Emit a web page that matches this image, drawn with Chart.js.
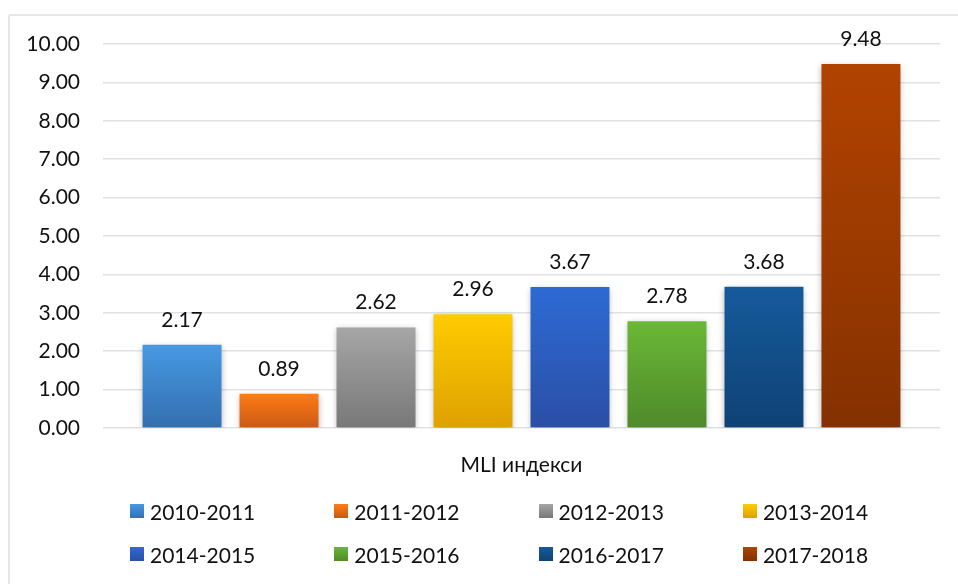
<!DOCTYPE html>
<html>
<head>
<meta charset="utf-8">
<title>MLI индекси</title>
<script src="https://cdn.jsdelivr.net/npm/chart.js@4.4.1/dist/chart.umd.min.js"></script>
<style>
  html, body { margin: 0; padding: 0; background: #fff; }
  #wrap { position: relative; width: 958px; height: 584px; overflow: hidden; }
  #frame { position: absolute; left: 8px; top: 14px; width: 990px; height: 620px;
           border: 2px solid #e4e7eb; border-radius: 3px; box-sizing: border-box; }
  #chart { position: absolute; left: 0; top: 0; }
  #legend { position: absolute; left: 0; top: 0; width: 958px; height: 584px;
            font: 21px Lato, "Open Sans", sans-serif; color: #111; }
  .item { position: absolute; display: flex; align-items: center; height: 24px; white-space: nowrap; }
  .box { width: 14px; height: 14px; margin-right: 6px; }
</style>
</head>
<body>
<div id="wrap">
  <div id="frame"></div>
  <canvas id="chart" width="958" height="584"></canvas>
  <div id="legend"></div>
</div>
<script>
// data
const categories = ['MLI индекси'];
const periods = ['2010-2011', '2011-2012', '2012-2013', '2013-2014',
                 '2014-2015', '2015-2016', '2016-2017', '2017-2018'];
const mliValues = [2.17, 0.89, 2.62, 2.96, 3.67, 2.78, 3.68, 9.48];
const yMin = 0, yMax = 10, yStep = 1;

// bar colours (top -> bottom of each bar)
const topColors = ['#4799e3', '#ff7b16', '#a6a6a6', '#ffcb00', '#2e6ad4', '#6ab836', '#165a9c', '#b24300'];
const bottomColors = ['#336fb0', '#c95a14', '#787878', '#dea100', '#2a4fa6', '#4f8a2a', '#0e4275', '#843100'];

const FONT = 'Lato, "Open Sans", sans-serif';
const TEXT = '#111';

function barGradient(i) {
  return function(ctx) {
    const chart = ctx.chart;
    const y = chart.scales && chart.scales.y;
    if (!chart.chartArea || !y) return topColors[i];
    const top = y.getPixelForValue(mliValues[i]);
    const bottom = y.getPixelForValue(0);
    const g = chart.ctx.createLinearGradient(0, top, 0, bottom);
    g.addColorStop(0, topColors[i]);
    g.addColorStop(1, bottomColors[i]);
    return g;
  };
}

const barShadow = {
  id: 'barShadow',
  beforeDatasetsDraw(chart) {
    const c = chart.ctx;
    c.save();
    c.shadowColor = 'rgba(0,0,0,0.28)';
    c.shadowBlur = 6;
    c.shadowOffsetX = 0;
    c.shadowOffsetY = 2;
  },
  afterDatasetsDraw(chart) {
    chart.ctx.restore();
  }
};

const valueLabels = {
  id: 'valueLabels',
  afterDatasetsDraw(chart) {
    const c = chart.ctx;
    c.save();
    c.font = '21px ' + FONT;
    c.fillStyle = TEXT;
    c.textAlign = 'center';
    c.textBaseline = 'alphabetic';
    chart.data.datasets.forEach((ds, i) => {
      const bar = chart.getDatasetMeta(i).data[0];
      c.fillText(ds.data[0].toFixed(2), bar.x, bar.y - 18);
    });
    c.restore();
  }
};

new Chart(document.getElementById('chart'), {
  type: 'bar',
  data: {
    labels: categories,
    datasets: periods.map((p, i) => ({
      label: p,
      data: [mliValues[i]],
      backgroundColor: barGradient(i),
      borderWidth: 0,
      categoryPercentage: 0.927,
      barPercentage: 0.814
    }))
  },
  options: {
    responsive: false,
    animation: false,
    layout: { padding: { top: 44, right: 18, left: 0, bottom: 0 } },
    plugins: {
      legend: { display: false },
      tooltip: { enabled: false }
    },
    scales: {
      x: {
        grid: { display: false },
        border: { display: false },
        ticks: { color: TEXT, font: { family: FONT, size: 21 }, padding: 17 },
        afterFit(s) { s.height = 156; }
      },
      y: {
        min: yMin,
        max: yMax,
        grid: { color: '#dfe2e6', lineWidth: 1.5, drawTicks: false },
        border: { display: false },
        ticks: {
          stepSize: yStep,
          padding: 23,
          color: TEXT,
          font: { family: FONT, size: 21 },
          callback: v => v.toFixed(2)
        },
        afterFit(s) { s.width = 103; }
      }
    }
  },
  plugins: [barShadow, valueLabels]
});

// legend: 2 rows x 4 columns
const legend = document.getElementById('legend');
periods.forEach((p, i) => {
  const col = i % 4, row = Math.floor(i / 4);
  const item = document.createElement('div');
  item.className = 'item';
  item.style.left = (130 + col * 204.3) + 'px';
  item.style.top = (511 - 12 + row * 43) + 'px';
  const box = document.createElement('span');
  box.className = 'box';
  box.style.background = 'linear-gradient(' + topColors[i] + ', ' + bottomColors[i] + ')';
  const txt = document.createElement('span');
  txt.textContent = p;
  item.appendChild(box);
  item.appendChild(txt);
  legend.appendChild(item);
});
</script>
</body>
</html>
